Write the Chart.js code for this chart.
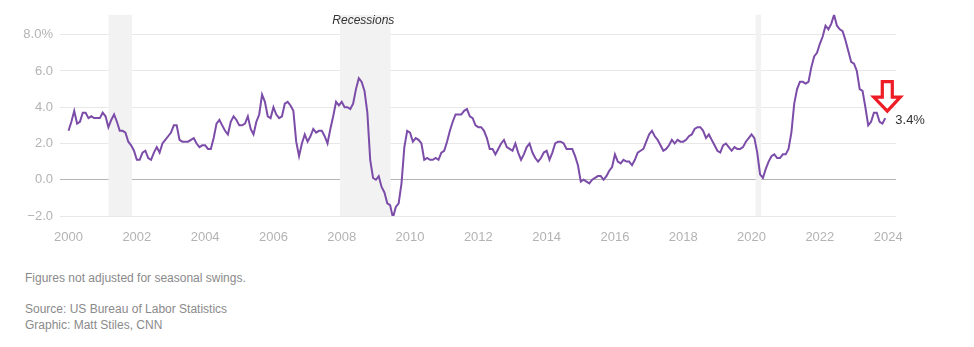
<!DOCTYPE html>
<html>
<head>
<meta charset="utf-8">
<script src="https://cdn.jsdelivr.net/npm/chart.js@4"></script>
<style>
  html, body { margin: 0; padding: 0; background: #fff; }
  body { width: 974px; height: 347px; overflow: hidden; font-family: "Liberation Sans", Arial, sans-serif; }
  #wrap { position: relative; width: 974px; height: 245px; }
  .note { position: absolute; left: 25px; font-size: 12px; color: #8a8a8a; line-height: 16px; }
</style>
</head>
<body>
<div id="wrap"><canvas id="ch"></canvas></div>
<div class="note" style="top:270px">Figures not adjusted for seasonal swings.</div>
<div class="note" style="top:301px">Source: US Bureau of Labor Statistics<br>Graphic: Matt Stiles, CNN</div>
<script>
// CPI, 12-month % change, monthly Jan 2000 - Dec 2023
const startYear = 2000
const cpi = [
  2.7, 3.2, 3.8, 3.1, 3.2, 3.7, 3.7, 3.4, 3.5, 3.4, 3.4, 3.4,
  3.7, 3.5, 2.9, 3.3, 3.6, 3.2, 2.7, 2.7, 2.6, 2.1, 1.9, 1.6,
  1.1, 1.1, 1.5, 1.6, 1.2, 1.1, 1.5, 1.8, 1.5, 2.0, 2.2, 2.4,
  2.6, 3.0, 3.0, 2.2, 2.1, 2.1, 2.1, 2.2, 2.3, 2.0, 1.8, 1.9,
  1.9, 1.7, 1.7, 2.3, 3.1, 3.3, 3.0, 2.7, 2.5, 3.2, 3.5, 3.3,
  3.0, 3.0, 3.1, 3.5, 2.8, 2.5, 3.2, 3.6, 4.7, 4.3, 3.5, 3.4,
  4.0, 3.6, 3.4, 3.5, 4.2, 4.3, 4.1, 3.8, 2.1, 1.3, 2.0, 2.5,
  2.1, 2.4, 2.8, 2.6, 2.7, 2.7, 2.4, 2.0, 2.8, 3.5, 4.3, 4.1,
  4.3, 4.0, 4.0, 3.9, 4.2, 5.0, 5.6, 5.4, 4.9, 3.7, 1.1, 0.1,
  0.0, 0.2, -0.4, -0.7, -1.3, -1.4, -2.1, -1.5, -1.3, -0.2, 1.8, 2.7,
  2.6, 2.1, 2.3, 2.2, 2.0, 1.1, 1.2, 1.1, 1.1, 1.2, 1.1, 1.5,
  1.6, 2.1, 2.7, 3.2, 3.6, 3.6, 3.6, 3.8, 3.9, 3.5, 3.4, 3.0,
  2.9, 2.9, 2.7, 2.3, 1.7, 1.7, 1.4, 1.7, 2.0, 2.2, 1.8, 1.7,
  1.6, 2.0, 1.5, 1.1, 1.4, 1.8, 2.0, 1.5, 1.2, 1.0, 1.2, 1.5,
  1.6, 1.1, 1.5, 2.0, 2.1, 2.1, 2.0, 1.7, 1.7, 1.7, 1.3, 0.8,
  -0.1, 0.0, -0.1, -0.2, 0.0, 0.1, 0.2, 0.2, 0.0, 0.2, 0.5, 0.7,
  1.4, 1.0, 0.9, 1.1, 1.0, 1.0, 0.8, 1.1, 1.5, 1.6, 1.7, 2.1,
  2.5, 2.7, 2.4, 2.2, 1.9, 1.6, 1.7, 1.9, 2.2, 2.0, 2.2, 2.1,
  2.1, 2.2, 2.4, 2.5, 2.8, 2.9, 2.9, 2.7, 2.3, 2.5, 2.2, 1.9,
  1.6, 1.5, 1.9, 2.0, 1.8, 1.6, 1.8, 1.7, 1.7, 1.8, 2.1, 2.3,
  2.5, 2.3, 1.5, 0.3, 0.1, 0.6, 1.0, 1.3, 1.4, 1.2, 1.2, 1.4,
  1.4, 1.7, 2.6, 4.2, 5.0, 5.4, 5.4, 5.3, 5.4, 6.2, 6.8, 7.0,
  7.5, 7.9, 8.5, 8.3, 8.6, 9.1, 8.5, 8.3, 8.2, 7.7, 7.1, 6.5,
  6.4, 6.0, 5.0, 4.9, 4.0, 3.0, 3.2, 3.7, 3.7, 3.2, 3.1, 3.4
]
// recession periods in decimal years
const recessionStart = [2001.17, 2007.95, 2020.12]
const recessionEnd = [2001.86, 2009.43, 2020.28]
const yTicks = [-2, 0, 2, 4, 6, 8]
const xTicks = [2000, 2002, 2004, 2006, 2008, 2010, 2012, 2014, 2016, 2018, 2020, 2022, 2024]
const lastLabel = '3.4%'

const points = cpi.map((v, i) => ({ x: startYear + i / 12, y: v }))

const recessionPlugin = {
  id: 'recessions',
  beforeDatasetsDraw(chart) {
    const { ctx, chartArea, scales: { x } } = chart
    ctx.save()
    ctx.fillStyle = '#f2f2f2'
    recessionStart.forEach((s, i) => {
      const x0 = x.getPixelForValue(s), x1 = x.getPixelForValue(recessionEnd[i])
      ctx.fillRect(x0, chartArea.top, x1 - x0, chartArea.bottom - chartArea.top)
    })
    // label over the 2008 band
    const mid = (x.getPixelForValue(recessionStart[1]) + x.getPixelForValue(recessionEnd[1])) / 2
    ctx.font = 'italic 12px "Liberation Sans", Arial, sans-serif'
    ctx.fillStyle = '#333'
    ctx.textAlign = 'center'
    ctx.textBaseline = 'middle'
    ctx.fillText('Recessions', mid - 2, 21)
    ctx.restore()
  }
}

const arrowPlugin = {
  id: 'arrow',
  afterDatasetsDraw(chart) {
    const { ctx, scales: { x, y } } = chart
    const last = points[points.length - 1]
    const px = x.getPixelForValue(last.x), py = y.getPixelForValue(last.y)
    const tx = px + 2, ty = py - 7
    ctx.save()
    ctx.beginPath()
    ctx.moveTo(tx, ty)
    ctx.lineTo(tx - 13.5, ty - 14)
    ctx.lineTo(tx - 5, ty - 14)
    ctx.lineTo(tx - 5, ty - 29.5)
    ctx.lineTo(tx + 5, ty - 29.5)
    ctx.lineTo(tx + 5, ty - 14)
    ctx.lineTo(tx + 13, ty - 14)
    ctx.closePath()
    ctx.fillStyle = '#fff'
    ctx.fill()
    ctx.lineWidth = 3.2
    ctx.lineJoin = 'miter'
    ctx.strokeStyle = '#ee1c25'
    ctx.stroke()
    ctx.font = '13px "Liberation Sans", Arial, sans-serif'
    ctx.fillStyle = '#333'
    ctx.textAlign = 'left'
    ctx.textBaseline = 'middle'
    ctx.fillText(lastLabel, px + 10, py + 2.5)
    ctx.restore()
  }
}

new Chart(document.getElementById('ch'), {
  type: 'line',
  data: { datasets: [{ data: points, borderColor: '#7b4ca8', borderWidth: 2, pointRadius: 0, tension: 0, fill: false }] },
  options: {
    responsive: true,
    maintainAspectRatio: false,
    animation: false,
    events: [],
    layout: { padding: { left: 0, right: 78, top: 11, bottom: 0 } },
    plugins: { legend: { display: false }, tooltip: { enabled: false } },
    scales: {
      x: {
        type: 'linear', min: 1999.75, max: 2024.23,
        afterBuildTicks: s => { s.ticks = xTicks.map(v => ({ value: v })) },
        afterFit: s => { s.height = 29 },
        grid: { display: false },
        border: { display: false },
        ticks: { padding: 6, color: '#b3b3b3', font: { family: '"Liberation Sans", Arial, sans-serif', size: 13 }, callback: v => String(v), maxRotation: 0 }
      },
      y: {
        min: -2, max: 9.1,
        afterBuildTicks: s => { s.ticks = yTicks.map(v => ({ value: v })) },
        afterFit: s => { s.width = 60 },
        grid: { drawTicks: false, color: c => c.tick && c.tick.value === 0 ? '#b5b5b5' : '#e8e8e8', lineWidth: 1 },
        border: { display: false },
        ticks: {
          padding: 7, color: '#b3b3b3', font: { family: '"Liberation Sans", Arial, sans-serif', size: 13 },
          callback: v => v === 8 ? '8.0%' : (v < 0 ? '\u2212' + Math.abs(v).toFixed(1) : v.toFixed(1))
        }
      }
    }
  },
  plugins: [recessionPlugin, arrowPlugin]
})
</script>
</body>
</html>
